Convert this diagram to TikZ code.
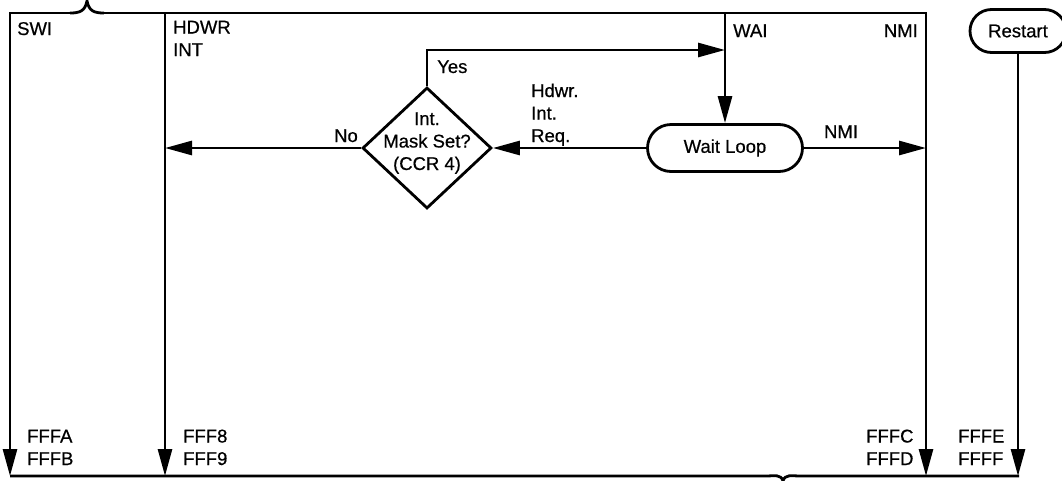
\documentclass[tikz,border=0pt]{standalone}
\usepackage{fontspec}
\setmainfont[FakeBold=0.6]{Liberation Sans}
\usetikzlibrary{shapes.geometric, shapes.misc, arrows.meta, positioning}
\tikzstyle{line} = [line width=2.8pt]
\tikzstyle{flow} = [line width=2.8pt, -{Triangle[length=27pt, width=14pt]}]
\tikzstyle{lbl} = [inner sep=0pt, anchor=base west, align=left]
\tikzstyle{term} = [rounded rectangle, draw, line width=2.8pt, inner sep=0pt]

\begin{document}
\begin{tikzpicture}[x=1pt, y=-1pt, font=\fontsize{18.5}{22.5}\selectfont]
\useasboundingbox (0,0) rectangle (1062,480);

% corners of the frame
\coordinate (tl) at (10,13);
\coordinate (tr) at (926,13);
\coordinate (bl) at (10,476);
\coordinate (br) at (1019,476);
\coordinate (hdtop) at (165,13);
\coordinate (hdbot) at (165,476);
\coordinate (nmibot) at (926,476);

% boxes
\node (mask) [diamond, draw, line width=2.8pt, inner sep=0pt, minimum width=129pt, minimum height=121pt] at (427,148) {};
\node (masktxt) [inner sep=0pt, anchor=base, align=center] at (427,170) {Int.\\Mask Set?\\(CCR 4)};
\node (wait) [term, minimum width=155pt, minimum height=47pt] at (725,148) {Wait Loop};
\node (rst) [term, minimum width=96pt, minimum height=43pt] at (1018,31) {Restart};

\coordinate (waitop) at (wait.north |- tl);
\coordinate (yescorner) at (mask.north |- 0,50);
\coordinate (yesend) at (waitop |- 0,50);

% frame with braces
\draw[flow] (70,13) -- (tl) -- (bl);
\draw[line] (70,13) .. controls (80,13) and (85,11) .. (87,1) .. controls (89,11) and (94,13) .. (104,13);
\draw[flow] (104,13) -- (tr) -- (nmibot);
\draw[line] (bl) -- (765,476) .. controls (775,476) and (781,474) .. (783,481) .. controls (785,474) and (791,476) .. (801,476) -- (br);

% flow lines
\draw[flow] (hdtop) -- (hdbot);
\draw[flow] (waitop) -- (wait.north);
\draw[flow] (rst.south) -- (rst.south |- br);
\draw[flow] (mask.north) -- (yescorner) -- (yesend);
\draw[flow] (wait.west) -- (mask.east);
\draw[flow] (wait.east) -- (wait.east -| tr);
\draw[flow] (mask.west) -- (mask.west -| hdtop);

% labels
\node (swi) [lbl] at (17,35) {SWI};
\node (hdwr) [lbl] at (173,56) {HDWR\\INT};
\node (wai) [lbl] at (733,37) {WAI};
\node (nmitop) [lbl, anchor=base east] at (918,37) {NMI};
\node (yes) [lbl] at (437,73) {Yes};
\node (req) [lbl] at (531,142) {Hdwr.\\Int.\\Req.};
\node (nmimid) [lbl, anchor=base] at (841,138) {NMI};
\node (no) [lbl, anchor=base east] at (358,142) {No};
\node (swiv) [lbl] at (27,465) {FFFA\\FFFB};
\node (hdv) [lbl] at (183,465) {FFF8\\FFF9};
\node (nmiv) [lbl] at (866,465) {FFFC\\FFFD};
\node (rstv) [lbl] at (958,465) {FFFE\\FFFF};
\end{tikzpicture}
\end{document}
